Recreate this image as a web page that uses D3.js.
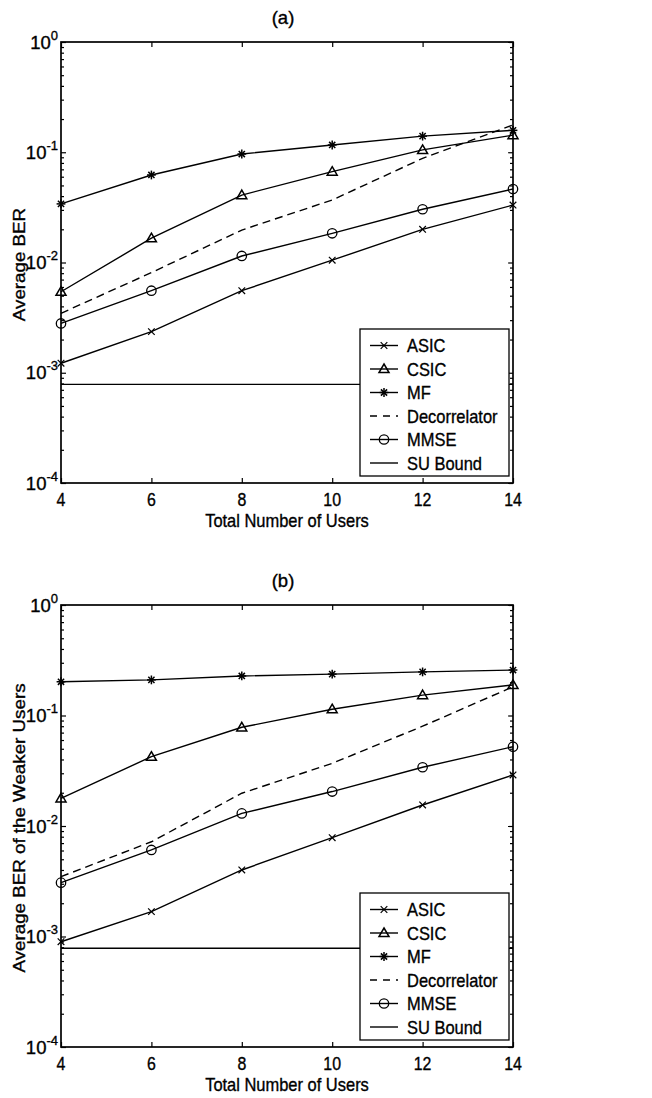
<!DOCTYPE html>
<html>
<head>
<meta charset="utf-8">
<script src="https://cdn.jsdelivr.net/npm/d3@7"></script>
<style>
  html, body { margin: 0; padding: 0; background: #fff; }
  svg text { font-family: "Liberation Sans", Arial, Helvetica, sans-serif; fill: #000; stroke: #000; stroke-width: 0.35; }
</style>
</head>
<body>
<svg id="chart" width="652" height="1098"></svg>
<script>
// ---------- data ----------
const users = [4, 6, 8, 10, 12, 14];
const xTickValues = [4, 6, 8, 10, 12, 14];
const yTickExponents = [0, -1, -2, -3, -4];
const seriesNames = ["ASIC", "CSIC", "MF", "Decorrelator", "MMSE", "SU Bound"];

// panel (a): Average BER
const aASIC = [0.00122, 0.00236, 0.00555, 0.0105, 0.0200, 0.0332];
const aCSIC = [0.00543, 0.0166, 0.0409, 0.0667, 0.105, 0.143];
const aMF = [0.0340, 0.0622, 0.0964, 0.1164, 0.140, 0.158];
const aDecor = [0.00346, 0.0081, 0.0197, 0.0369, 0.088, 0.177];
const aMMSE = [0.0028, 0.00555, 0.01146, 0.0184, 0.0304, 0.0464];
const aSU = [0.000785, 0.000785, 0.000785, 0.000785, 0.000785, 0.000785];

// panel (b): Average BER of the weaker users
const bASIC = [0.000897, 0.00168, 0.0040, 0.00784, 0.0155, 0.0290];
const bCSIC = [0.0178, 0.0424, 0.0782, 0.114, 0.153, 0.189];
const bMF = [0.202, 0.210, 0.228, 0.237, 0.248, 0.258];
const bDecor = [0.00348, 0.0072, 0.0198, 0.0369, 0.080, 0.182];
const bMMSE = [0.00307, 0.00607, 0.0130, 0.0205, 0.0340, 0.0522];
const bSU = [0.000782, 0.000782, 0.000782, 0.000782, 0.000782, 0.000782];

// ---------- drawing ----------
const svg = d3.select("#chart");
const FONT = 18.5;
const SX = 0.89; // horizontal condensation of the scanned text face

const styles = {
  "ASIC": { marker: "x", dash: null },
  "CSIC": { marker: "triangle", dash: null },
  "MF": { marker: "asterisk", dash: null },
  "Decorrelator": { marker: null, dash: "8,5" },
  "MMSE": { marker: "circle", dash: null },
  "SU Bound": { marker: null, dash: null }
};

function label(g, x, y, str, anchor, sx) {
  return g.append("text")
    .attr("transform", `translate(${x},${y}) scale(${sx === undefined ? SX : sx},1)`)
    .attr("text-anchor", anchor).attr("font-size", FONT).text(str);
}

function drawMarker(g, type, cx, cy) {
  const s = g.append("g").attr("transform", `translate(${cx},${cy})`)
    .attr("stroke", "#000").attr("stroke-width", 1.2).attr("fill", "none");
  if (type === "x") {
    const r = 3.3;
    s.append("line").attr("x1", -r).attr("y1", -r).attr("x2", r).attr("y2", r);
    s.append("line").attr("x1", -r).attr("y1", r).attr("x2", r).attr("y2", -r);
  } else if (type === "asterisk") {
    const r = 4.4, d = 3.1;
    s.attr("stroke-width", 1.5);
    s.append("line").attr("x1", 0).attr("y1", -r).attr("x2", 0).attr("y2", r);
    s.append("line").attr("x1", -d).attr("y1", -d).attr("x2", d).attr("y2", d);
    s.append("line").attr("x1", -d).attr("y1", d).attr("x2", d).attr("y2", -d);
    s.append("line").attr("x1", -r).attr("y1", 0).attr("x2", r).attr("y2", 0);
  } else if (type === "triangle") {
    s.attr("stroke-width", 1.5);
    s.append("path").attr("d", "M0,-5 L5,3.6 L-5,3.6 Z");
  } else if (type === "circle") {
    s.attr("stroke-width", 1.3);
    s.append("circle").attr("r", 4.7);
  }
}

function drawPanel(cfg) {
  const x = d3.scaleLinear().domain([4, 14]).range([cfg.left, cfg.right]);
  const y = d3.scaleLog().domain([1e-4, 1]).range([cfg.bottom, cfg.top]);
  const g = svg.append("g");

  const minor = [];
  for (let e = -4; e < 0; e++) for (let m = 2; m <= 9; m++) minor.push(m * Math.pow(10, e));
  const major = yTickExponents.map(e => Math.pow(10, e));

  const ax = (t, gen) => g.append("g").attr("transform", t).call(gen).call(a => a.select(".domain").remove());
  ax(`translate(${cfg.left},0)`, d3.axisLeft(y).tickValues(major).tickSize(-5).tickFormat(""));
  ax(`translate(${cfg.left},0)`, d3.axisLeft(y).tickValues(minor).tickSize(-3).tickFormat(""));
  ax(`translate(${cfg.right},0)`, d3.axisRight(y).tickValues(major).tickSize(-5).tickFormat(""));
  ax(`translate(${cfg.right},0)`, d3.axisRight(y).tickValues(minor).tickSize(-3).tickFormat(""));
  ax(`translate(0,${cfg.bottom})`, d3.axisBottom(x).tickValues(xTickValues).tickSize(-5).tickFormat(""));
  ax(`translate(0,${cfg.top})`, d3.axisTop(x).tickValues(xTickValues).tickSize(-5).tickFormat(""));
  g.selectAll(".tick line").attr("stroke", "#000").attr("stroke-width", 1.2);

  // data lines
  const line = d3.line().x((d, i) => x(users[i])).y(d => y(d));
  cfg.series.forEach((vals, k) => {
    const st = styles[seriesNames[k]];
    g.append("path").datum(vals).attr("d", line)
      .attr("fill", "none").attr("stroke", "#000").attr("stroke-width", 1.4)
      .attr("stroke-dasharray", st.dash);
    if (st.marker) vals.forEach((v, i) => drawMarker(g, st.marker, x(users[i]), y(v)));
  });

  // frame
  g.append("rect").attr("x", cfg.left).attr("y", cfg.top)
    .attr("width", cfg.right - cfg.left).attr("height", cfg.bottom - cfg.top)
    .attr("fill", "none").attr("stroke", "#000").attr("stroke-width", 1.7);

  // y tick labels (10^e)
  yTickExponents.forEach(e => {
    const t = g.append("text").attr("x", cfg.left - 3).attr("y", y(Math.pow(10, e)) + 6.5)
      .attr("text-anchor", "end").attr("font-size", 18.5);
    t.append("tspan").text("10");
    t.append("tspan").attr("dy", -9).attr("font-size", 13).text(String(e));
  });

  // x tick labels
  xTickValues.forEach(v => label(g, x(v), cfg.bottom + 23, String(v), "middle", 0.86));

  // axis titles
  label(g, (cfg.left + cfg.right) / 2 - 0, cfg.bottom + 44, "Total Number of Users", "middle");
  g.append("text")
    .attr("transform", `translate(${25},${(cfg.top + cfg.bottom) / 2 + 2}) rotate(-90) scale(1.13,1)`)
    .attr("text-anchor", "middle").attr("font-size", 16.6).text(cfg.ylabel);
  label(g, (cfg.left + cfg.right) / 2 - 4, cfg.top - 18, cfg.title, "middle", 1);

  // legend
  const lx = 360, lw = 149, lh = 147;
  const ly = cfg.legendTop;
  const lg = g.append("g");
  lg.append("rect").attr("x", lx).attr("y", ly).attr("width", lw).attr("height", lh)
    .attr("fill", "#fff").attr("stroke", "#000").attr("stroke-width", 1.3);
  seriesNames.forEach((name, i) => {
    const cy = ly + 16.5 + i * 23.5;
    const st = styles[name];
    lg.append("line").attr("x1", lx + 10).attr("x2", lx + 38).attr("y1", cy).attr("y2", cy)
      .attr("stroke", "#000").attr("stroke-width", 1.4).attr("stroke-dasharray", st.dash ? "7,6" : null);
    if (st.marker) drawMarker(lg, st.marker, lx + 24, cy);
    label(lg, lx + 47, cy + 6.5, name, "start");
  });
}

drawPanel({
  left: 61, right: 513, top: 42, bottom: 483, legendTop: 329,
  title: "(a)", ylabel: "Average BER",
  series: [aASIC, aCSIC, aMF, aDecor, aMMSE, aSU]
});
drawPanel({
  left: 61, right: 513, top: 605, bottom: 1047, legendTop: 893,
  title: "(b)", ylabel: "Average BER of the Weaker Users",
  series: [bASIC, bCSIC, bMF, bDecor, bMMSE, bSU]
});
</script>
</body>
</html>
